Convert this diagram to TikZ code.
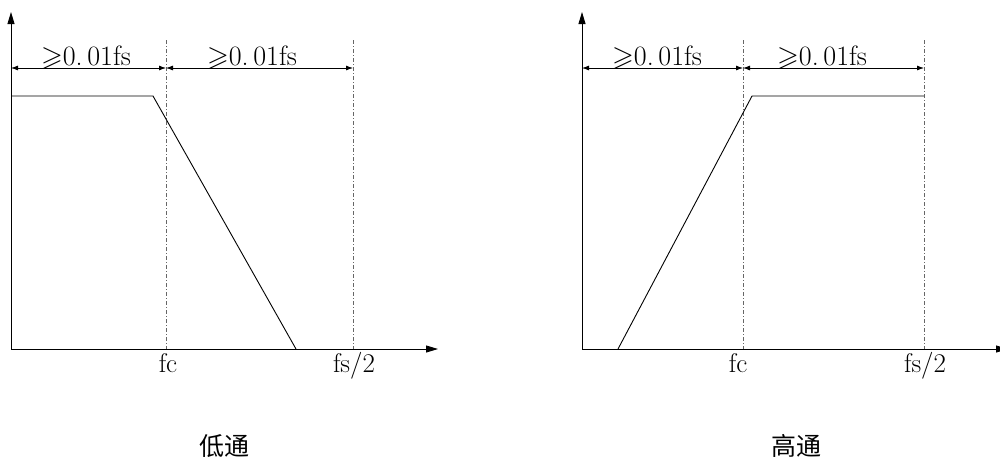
\documentclass[tikz,border=0pt]{standalone}
\usepackage{amssymb}
\usepackage{fontspec}
\newfontfamily\cjk{Noto Sans CJK SC}
\usetikzlibrary{arrows.meta}

\tikzset{
  axis/.style={line width=0.9pt, -{Triangle[length=12pt, width=7pt]}},
  dimline/.style={line width=0.8pt, {Latex[length=7pt, width=5pt]}-{Latex[length=7pt, width=5pt]}},
  guide/.style={line width=0.6pt, gray!80!black, dash pattern=on 4pt off 2pt on 1pt off 2pt},
  curve/.style={line width=0.9pt},
  dimlabel/.style={font=\fontsize{28}{32}\selectfont, anchor=base, inner sep=0pt},
  ticklabel/.style={font=\fontsize{27}{31}\selectfont, anchor=base, inner sep=0pt},
  title/.style={font=\cjk\fontsize{25}{29}\selectfont}
}

\begin{document}
\begin{tikzpicture}[x=1pt, y=-1pt]
    \useasboundingbox (0,0) rectangle (1000,461);

    % Low-pass
    \coordinate (lo) at (11,349);
    \coordinate (ly) at (11,12);
    \coordinate (lx) at (438,349);
    \draw[axis] (lo) -- (ly);
    \draw[axis] (lo) -- (lx);
    \coordinate (lfcT) at (166,40);
    \coordinate (lfcB) at (166,349);
    \coordinate (lfsT) at (353,40);
    \coordinate (lfsB) at (353,349);
    \draw[guide] (lfcT) -- (lfcB);
    \draw[guide] (lfsT) -- (lfsB);
    \coordinate (ldA) at (11,68);
    \coordinate (ldB) at (166,68);
    \coordinate (ldC) at (353,68);
    \draw[dimline] (ldA) -- (ldB);
    \draw[dimline] (ldB) -- (ldC);
    \node[dimlabel] (lwidth1) at (86,65) {$\geqslant$0.\,01fs};
    \node[dimlabel] (lwidth2) at (252,65) {$\geqslant$0.\,01fs};
    \coordinate (lpA) at (11,96);
    \coordinate (lpB) at (153,96);
    \coordinate (lpC) at (296,349);
    \draw[curve] (lpA) -- (lpB) -- (lpC);
    \node[ticklabel] (lfc) at (168,372) {fc};
    \node[ticklabel] (lfs) at (354,372) {fs/2};
    \node[title] (lowpass) at (224,446) {低通};

    % High-pass
    \coordinate (ho) at (582,349);
    \coordinate (hy) at (582,12);
    \coordinate (hx) at (1008,349);
    \draw[axis] (ho) -- (hy);
    \draw[axis] (ho) -- (hx);
    \coordinate (hfcT) at (743,40);
    \coordinate (hfcB) at (743,349);
    \coordinate (hfsT) at (924,40);
    \coordinate (hfsB) at (924,349);
    \draw[guide] (hfcT) -- (hfcB);
    \draw[guide] (hfsT) -- (hfsB);
    \coordinate (hdA) at (582,68);
    \coordinate (hdB) at (743,68);
    \coordinate (hdC) at (924,68);
    \draw[dimline] (hdA) -- (hdB);
    \draw[dimline] (hdB) -- (hdC);
    \node[dimlabel] (hwidth1) at (657,65) {$\geqslant$0.\,01fs};
    \node[dimlabel] (hwidth2) at (822,65) {$\geqslant$0.\,01fs};
    \coordinate (hpA) at (618,349);
    \coordinate (hpB) at (752,96);
    \coordinate (hpC) at (924,96);
    \draw[curve] (hpA) -- (hpB) -- (hpC);
    \node[ticklabel] (hfc) at (738,372) {fc};
    \node[ticklabel] (hfs) at (925,372) {fs/2};
    \node[title] (highpass) at (796,446) {高通};
\end{tikzpicture}
\end{document}
